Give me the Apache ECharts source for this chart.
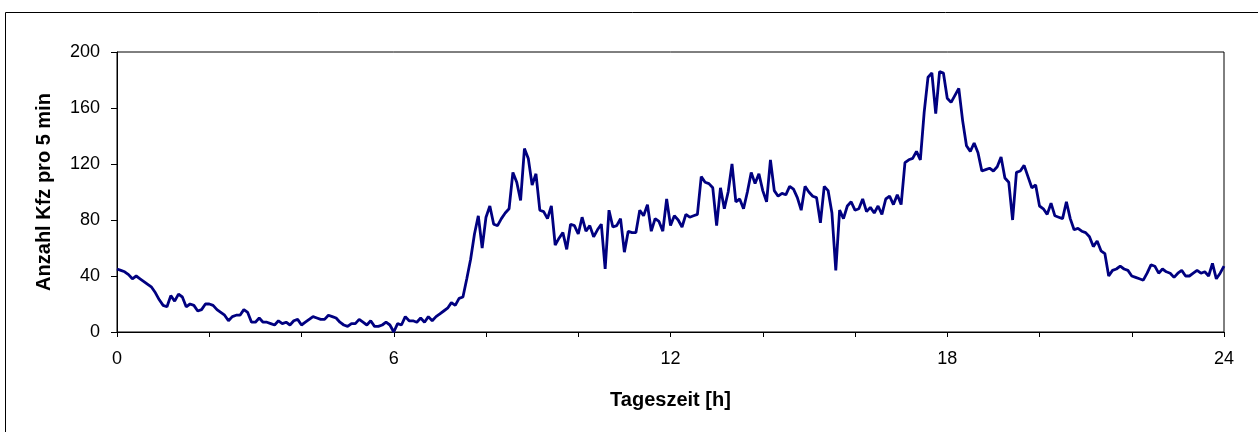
<!DOCTYPE html>
<html>
<head>
<meta charset="utf-8">
<script src="https://cdn.jsdelivr.net/npm/echarts@6/dist/echarts.min.js"></script>
<style>
html,body{margin:0;padding:0;background:#fff;}
#chart{width:1258px;height:432px;}
</style>
</head>
<body>
<div id="chart"></div>
<script>
// Vehicles per 5 minutes, 4-hour blocks (48 values each), plus 24:00
const h00_04 = [45,44,43,41,38,40,38,36,34,32,28,23,
                19,18,26,22,27,25,18,20,19,15,16,20,
                20,19,16,14,12,8,11,12,12,16,14,7,
                7,10,7,7,6,5,8,6,7,5,8,9];
const h04_08 = [5,7,9,11,10,9,9,12,11,10,7,5,
                4,6,6,9,7,5,8,4,4,5,7,5,
                0,6,5,11,8,8,7,10,7,11,8,11,
                13,15,17,21,19,24,25,38,52,70,83,60];
const h08_12 = [82,90,77,76,81,85,88,114,107,94,131,124,
                105,113,87,86,81,90,62,67,71,59,77,76,
                70,82,72,76,68,73,77,45,87,75,76,81,
                57,72,71,71,87,83,91,72,81,79,72,95];
const h12_16 = [76,83,80,75,84,82,83,84,111,107,106,103,
                76,103,88,100,120,93,95,88,100,114,106,113,
                101,93,123,101,97,99,98,104,102,96,87,104,
                100,97,96,78,104,101,85,44,87,81,90,93];
const h16_20 = [87,88,95,86,89,85,90,84,95,97,91,98,
                91,121,123,124,129,123,157,182,185,156,186,185,
                167,164,169,174,151,133,129,135,128,115,116,117,
                115,118,125,110,107,80,114,115,119,111,103,105];
const h20_24 = [90,88,84,92,83,82,81,93,81,73,74,72,
                71,68,61,65,58,56,40,44,45,47,45,44,
                40,39,38,37,42,48,47,42,45,43,42,39,
                42,44,40,40,42,44,42,43,40,49,38,42];
const h24 = [47];

const xTickLabels = [0, 6, 12, 18, 24];
const yTicks = [0, 40, 80, 120, 160, 200];

const counts = [].concat(h00_04, h04_08, h08_12, h12_16, h16_20, h20_24, h24);
const stepHours = 5 / 60;
const seriesData = counts.map((v, i) => [i * stepHours, v]);

const FONT = '"Liberation Sans", Arial, Helvetica, sans-serif';
const chart = echarts.init(document.getElementById('chart'), null, {renderer: 'canvas'});
chart.setOption({
  animation: false,
  backgroundColor: '#fff',
  textStyle: {fontFamily: FONT, color: '#000'},
  graphic: [{
    type: 'rect',
    shape: {x: 5.5, y: 12.5, width: 1300, height: 600},
    style: {fill: 'none', stroke: '#000', lineWidth: 1},
    silent: true,
    z: -10
  }],
  grid: {
    left: 117, right: 34, top: 52, bottom: 100,
    show: true, borderColor: '#000', borderWidth: 1, backgroundColor: 'transparent'
  },
  xAxis: {
    type: 'value',
    min: 0, max: 24, interval: 2,
    name: 'Tageszeit [h]',
    nameLocation: 'middle',
    nameGap: 58,
    nameTextStyle: {fontFamily: FONT, fontSize: 20, fontWeight: 'bold', color: '#000'},
    axisLine: {lineStyle: {color: '#000', width: 1}},
    axisTick: {show: true, length: 5, inside: false, lineStyle: {color: '#000'}},
    axisLabel: {
      fontFamily: FONT, fontSize: 18, color: '#000', margin: 18,
      formatter: v => xTickLabels.indexOf(v) >= 0 ? String(v) : ''
    },
    splitLine: {show: false}
  },
  yAxis: {
    type: 'value',
    min: 0, max: 200, interval: 40,
    name: 'Anzahl Kfz pro 5 min',
    nameLocation: 'middle',
    nameGap: 63,
    nameRotate: 90,
    nameTextStyle: {fontFamily: FONT, fontSize: 20, fontWeight: 'bold', color: '#000'},
    axisLine: {show: true, lineStyle: {color: '#000', width: 1}},
    axisTick: {show: true, length: 6, inside: false, lineStyle: {color: '#000'}},
    axisLabel: {
      fontFamily: FONT, fontSize: 18, color: '#000', margin: 17,
      formatter: v => yTicks.indexOf(v) >= 0 ? String(v) : ''
    },
    splitLine: {show: false}
  },
  series: [{
    type: 'line',
    data: seriesData,
    showSymbol: false,
    symbol: 'none',
    lineStyle: {color: '#000080', width: 2.8},
    itemStyle: {color: '#000080'}
  }]
});
</script>
</body>
</html>
